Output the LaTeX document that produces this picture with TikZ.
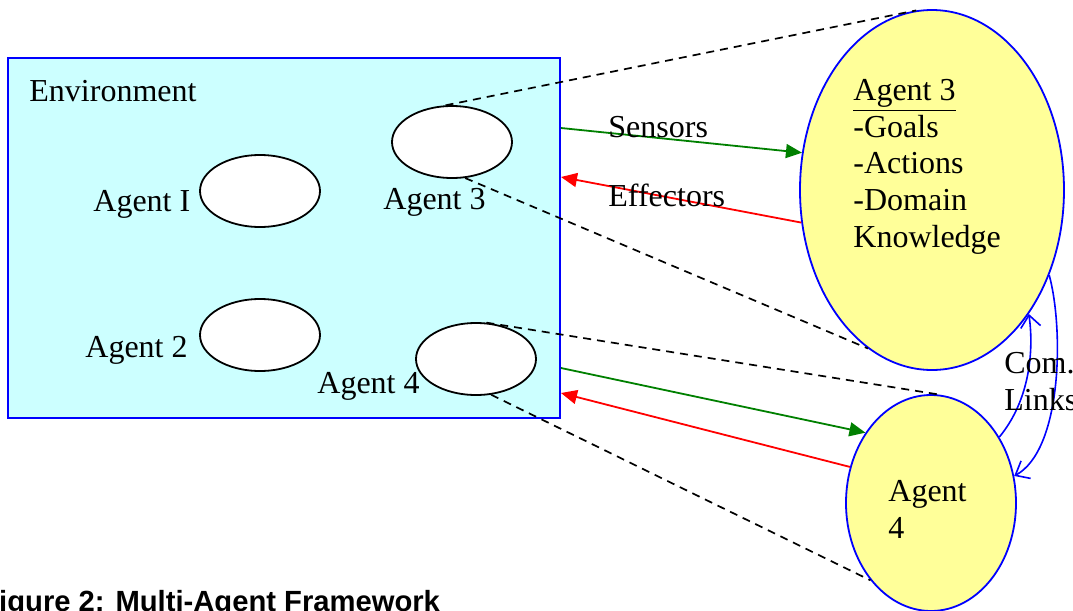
\documentclass[tikz,border=0pt]{standalone}
\usepackage{fontspec}
\setmainfont{Liberation Serif}
\newfontfamily\capfont{Liberation Sans}
\usetikzlibrary{shapes.geometric,arrows.meta}
\definecolor{envcyan}{RGB}{204,255,255}
\definecolor{agentyellow}{RGB}{255,255,153}
\definecolor{linkgreen}{RGB}{0,128,0}

\begin{document}
\begin{tikzpicture}[x=0.5pt,y=-0.5pt,
    every node/.style={font=\fontsize{16}{18.35}\selectfont},
    agent/.style={ellipse,draw,fill=white,line width=0.9pt,minimum width=60pt,minimum height=36pt,inner sep=0},
    bigagent/.style={ellipse,draw=blue,fill=agentyellow,line width=0.9pt,inner sep=0},
    txt/.style={anchor=base west,inner sep=0},
    sensor/.style={draw=linkgreen,line width=0.9pt,-{Triangle[length=8pt,width=7pt]}},
    effector/.style={draw=red,line width=0.9pt,-{Triangle[length=8pt,width=7pt]}},
    zoomline/.style={dash pattern=on 4pt off 3pt,line width=0.85pt},
    comlink/.style={draw=blue,line width=0.8pt,-{Straight Barb[length=6pt,width=10pt]}}]
  \useasboundingbox (0,0) rectangle (1073,611);
  \node[draw=blue,fill=envcyan,line width=1pt,minimum width=276pt,minimum height=180pt,inner sep=0] (env) at (284,238) {};
  \node[txt] (envlabel) at (29,101) {Environment};
  \node[agent] (a1) at (260,191) {};
  \node[txt] (a1label) at (93,211) {Agent I};
  \node[agent] (a3) at (452,142) {};
  \node[txt] (a3label) at (383,209) {Agent 3};
  \node[agent] (a2) at (260,335) {};
  \node[txt] (a2label) at (85,357) {Agent 2};
  \node[agent] (a4) at (476,359) {};
  \node[txt] (a4label) at (317,393) {Agent 4};

  \node[bigagent,minimum width=132pt,minimum height=180pt] (big3) at (932,190) {};
  \node[txt,anchor=north west,align=left] (big3text) at (853,79) {\underline{Agent 3}\\-Goals\\-Actions\\-Domain\\Knowledge};
  \node[bigagent,minimum width=85pt,minimum height=108pt] (big4) at (931,503) {};
  \node[txt,anchor=north west,align=left] (big4text) at (888,480) {Agent\\4};

  \draw[zoomline] (a3.100) -- (big3.95);
  \draw[zoomline] (a3.290) -- (big3.248);
  \draw[zoomline] (a4.74) -- (big4.84);
  \draw[zoomline] (a4.293) -- (big4.232);

  \draw[sensor] (env.east |- 0,128) -- (big3.164);
  \draw[effector] (big3.194) -- (env.east |- 0,177);
  \draw[sensor] (env.east |- 0,368) -- (big4.133);
  \draw[effector] (big4.156) -- (env.east |- 0,393);
  \node[txt] (senslabel) at (608,137) {Sensors};
  \node[txt] (efflabel) at (608,206) {Effectors};

  \draw[comlink] (big4.44) .. controls (1030,400) and (1034,350) .. (big3.308);
  \draw[comlink] (big3.324) .. controls (1064,330) and (1062,450) .. (big4.18);
  \node[txt,anchor=north west,align=left] (comtext) at (1004,352) {Com.\\Links};

  \node[anchor=base west,inner sep=0,font=\capfont\bfseries\fontsize{14.6}{16}\selectfont] (caption) at (-19,611) {Figure 2: Multi-Agent Framework};
\end{tikzpicture}
\end{document}
